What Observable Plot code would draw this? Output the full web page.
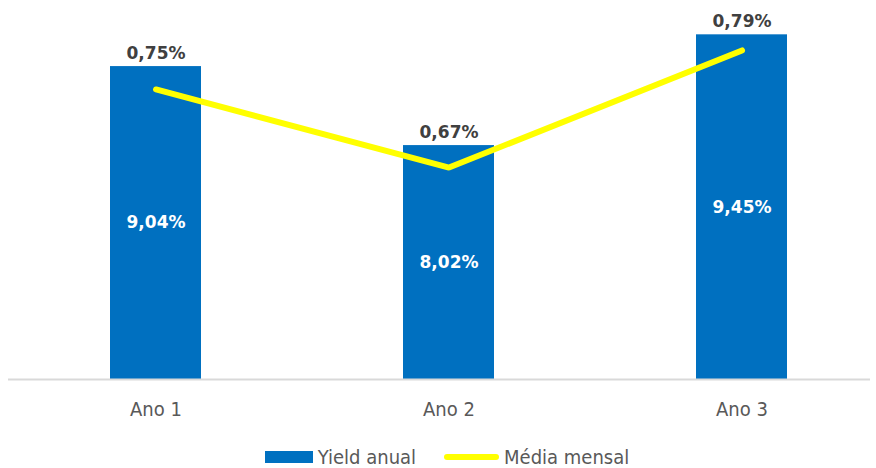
<!DOCTYPE html>
<html>
<head>
<meta charset="utf-8">
<script src="https://cdn.jsdelivr.net/npm/d3@7"></script>
<script src="https://cdn.jsdelivr.net/npm/@observablehq/plot@0.6"></script>
<style>
  html, body { margin: 0; padding: 0; background: #fff; }
  #chart { width: 876px; }
  .legend { display: flex; justify-content: center; align-items: center; height: 23px;
    font-family: "DejaVu Sans Condensed", "DejaVu Sans", sans-serif; font-stretch: condensed;
    font-size: 20px; color: #595959; padding-left: 18px; }
  .legend .item { display: flex; align-items: center; }
  .sw-bar { width: 48px; height: 12px; background: #0070C0; margin-right: 5px; }
  .sw-line { width: 55px; height: 6px; border-radius: 3px; background: #FFFF00; margin-right: 5px; margin-left: 28px; }
</style>
</head>
<body>
<div id="chart"></div>
<script>
const categories = ["Ano 1", "Ano 2", "Ano 3"];
const yieldAnual = [9.04, 8.02, 9.45];
const mediaMensal = [0.75, 0.67, 0.79];
const seriesNames = ["Yield anual", "Média mensal"];

const fmt = v => d3.format(".2f")(v).replace(".", ",") + "%";
const data = categories.map((c, i) => ({ cat: c, y: yieldAnual[i], m: mediaMensal[i] }));

// secondary axis mapping onto primary scale
const y2Min = 0.4528, y2Factor = 12.6, yMin = 5;
const toPrimary = m => yMin + (m - y2Min) * y2Factor;

const plot = Plot.plot({
  width: 876,
  height: 445,
  marginLeft: 8,
  marginRight: 6,
  marginTop: 10,
  marginBottom: 66,
  style: { fontFamily: "'DejaVu Sans Condensed', 'DejaVu Sans', sans-serif", background: "#fff" },
  x: { domain: categories, paddingInner: 0.69, paddingOuter: 0.313, align: 0.55, label: null },
  y: { domain: [yMin, 9.764], axis: null },
  marks: [
    Plot.barY(data, { x: "cat", y1: yMin, y2: "y", fill: "#0070C0" }),
    Plot.ruleY([yMin], { stroke: "#d9d9d9", strokeWidth: 2 }),
    Plot.axisX({ tickSize: 0, tickPadding: 22, fontSize: 20, fill: "#595959",
      style: "font-stretch: condensed", label: null }),
    Plot.lineY(data, { x: "cat", y: d => toPrimary(d.m), stroke: "#FFFF00", strokeWidth: 6,
      strokeLinecap: "round", strokeLinejoin: "miter" }),
    Plot.text(data, { x: "cat", y: d => (yMin + d.y) / 2, text: d => fmt(d.y), fill: "white",
      fontSize: 17, fontWeight: "bold", fontFamily: "'DejaVu Sans', sans-serif" }),
    Plot.text(data, { x: "cat", y: "y", dy: -13, text: d => fmt(d.m), fill: "#404040",
      fontSize: 17, fontWeight: "bold", fontFamily: "'DejaVu Sans', sans-serif" })
  ]
});
document.getElementById("chart").appendChild(plot);

const legend = document.createElement("div");
legend.className = "legend";
legend.innerHTML = `<div class="item"><div class="sw-bar"></div><span>${seriesNames[0]}</span></div>
<div class="item"><div class="sw-line"></div><span>${seriesNames[1]}</span></div>`;
document.getElementById("chart").appendChild(legend);
</script>
</body>
</html>
